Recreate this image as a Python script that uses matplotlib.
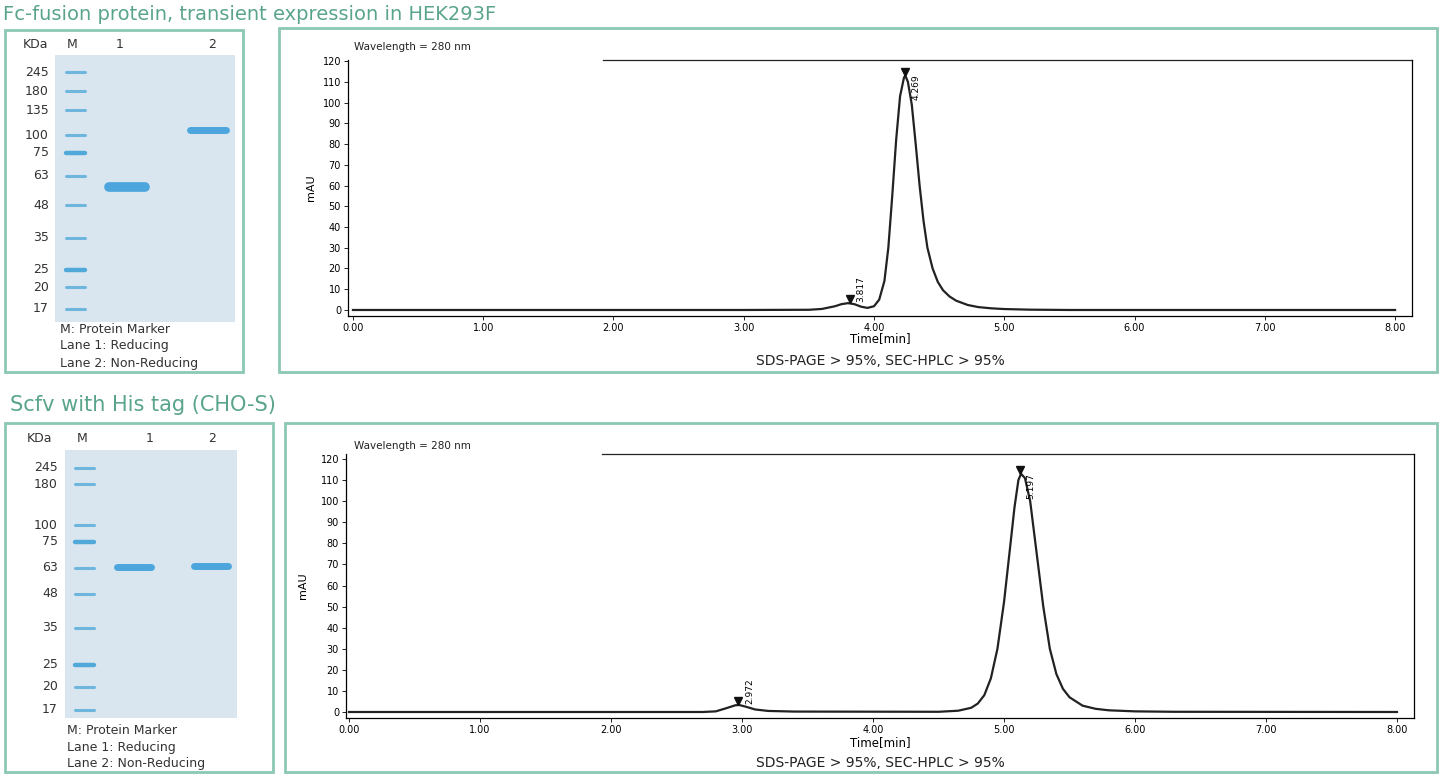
import matplotlib
matplotlib.use("Agg")
import matplotlib.pyplot as plt
from matplotlib.patches import Rectangle

W, H = 1445, 783
fig = plt.figure(figsize=(W/100, H/100), dpi=100)
fig.patch.set_facecolor("white")

# ---------------- data ----------------
top_title = "Fc-fusion protein, transient expression in HEK293F"
bot_title = "Scfv with His tag (CHO-S)"

top_marker_mw = [245, 180, 135, 100, 75, 63, 48, 35, 25, 20, 17]
top_marker_mig = [0.064, 0.135, 0.206, 0.300, 0.367, 0.453, 0.562, 0.685, 0.805, 0.869, 0.951]
top_lane_mig = [0.496, 0.281]      # lane1 reducing, lane2 non-reducing
bot_marker_mw = [245, 180, 100, 75, 63, 48, 35, 25, 20, 17]
bot_marker_mig = [0.067, 0.127, 0.280, 0.343, 0.440, 0.537, 0.664, 0.802, 0.884, 0.970]
bot_lane_mig = [0.437, 0.433]

top_t = [0.0, 3.0, 3.5, 3.6, 3.7, 3.75, 3.8, 3.85, 3.9, 3.95, 4.0, 4.04, 4.08, 4.11, 4.14, 4.17,
         4.2, 4.23, 4.24, 4.26, 4.29, 4.32, 4.35, 4.38, 4.41, 4.45, 4.49, 4.53, 4.58, 4.63, 4.72,
         4.8, 4.9, 5.0, 5.2, 5.5, 8.0]
top_v = [0.0, 0.0, 0.1, 0.5, 1.8, 2.8, 3.3, 2.8, 1.6, 1.0, 1.8, 5, 14, 30, 55, 82,
         103, 112, 113, 110, 99, 80, 60, 43, 30, 20, 13.5, 9.5, 6.5, 4.5, 2.4,
         1.4, 0.8, 0.45, 0.15, 0.0, 0.0]
top_peaks_t = [3.817, 4.24]
top_peaks_v = [3.3, 113]
top_peaks_lab = ["3.817", "4.269"]

bot_t = [0.0, 2.7, 2.8, 2.88, 2.95, 2.98, 3.03, 3.1, 3.2, 3.4, 4.5, 4.65, 4.75, 4.8, 4.85, 4.9,
         4.95, 5.0, 5.05, 5.08, 5.11, 5.13, 5.16, 5.2, 5.25, 5.3, 5.35, 5.4, 5.45, 5.5, 5.6,
         5.7, 5.8, 6.0, 6.3, 8.0]
bot_v = [0.0, 0.0, 0.3, 1.8, 3.2, 3.3, 2.5, 1.2, 0.5, 0.2, 0.1, 0.6, 2.0, 4, 8, 16,
         30, 52, 80, 97, 110, 113, 111, 100, 75, 50, 30, 18, 11, 7, 3,
         1.5, 0.8, 0.3, 0.1, 0.0]
bot_peaks_t = [2.972, 5.12]
bot_peaks_v = [3.3, 113]
bot_peaks_lab = ["2.972", "5.197"]

xticks = [0, 1, 2, 3, 4, 5, 6, 7, 8]
yticks = list(range(0, 121, 10))

GREEN = "#8cc8b3"
TITLE_GREEN = "#5aa58a"

def ax_px(x0, y0, x1, y1, **kw):
    return fig.add_axes([x0/W, 1-y1/H, (x1-x0)/W, (y1-y0)/H], **kw)

def box(x0, y0, x1, y1):
    fig.patches.append(Rectangle((x0/W, 1-y1/H), (x1-x0)/W, (y1-y0)/H, transform=fig.transFigure,
                                 fill=False, edgecolor=GREEN, lw=2))

def ftxt(x, y, s, **kw):
    fig.text(x/W, 1-y/H, s, **kw)

def gel(rect, mw, mig, lanes, lab_x, head, cap_x, cap_y, thick1):
    x0, y0, x1, y1 = rect
    ax = ax_px(x0, y0, x1, y1)
    ax.set_xlim(0, 3); ax.set_ylim(1, 0)
    ax.set_facecolor("#d9e6ef")
    for s in ax.spines.values(): s.set_visible(False)
    ax.set_xticks([]); ax.set_yticks([])
    for m, y in zip(mw, mig):
        strong = m in (25, 75)
        ax.plot([0.18, 0.5], [y, y], color="#4aa6d8", lw=3.2 if strong else 2.2,
                alpha=0.95 if strong else 0.75, solid_capstyle="round")
        ftxt(lab_x, y0 + y*(y1-y0), str(m), ha="right", va="center", fontsize=9, color="#333")
    for i, y in enumerate(lanes):
        cx = [1.2, 2.55][i]
        ax.plot([cx-0.3, cx+0.3], [y, y], color="#3d9fdc", lw=thick1 if i == 0 else 5,
                alpha=0.9, solid_capstyle="round")
    for (hx, s) in head:
        ftxt(hx, y0-11, s, ha="center", va="center", fontsize=9, color="#333")
    for j, s in enumerate(["M: Protein Marker", "Lane 1: Reducing", "Lane 2: Non-Reducing"]):
        ftxt(cap_x, cap_y + j*17, s, ha="left", va="center", fontsize=9, color="#333")

def chrom(rect, t, v, pt, pv, pl, xlim, ylim, wl_xy, mau_x, time_y, sds_y):
    x0, y0, x1, y1 = rect
    ax = ax_px(x0, y0, x1, y1)
    ax.plot(t, v, color="#222", lw=1.6)
    ax.set_xlim(*xlim); ax.set_ylim(*ylim)
    ax.set_xticks(xticks); ax.set_xticklabels([f"{x:.2f}" for x in xticks], fontsize=7)
    ax.set_yticks(yticks); ax.set_yticklabels([str(y) for y in yticks], fontsize=7)
    ax.tick_params(length=3, width=0.6, pad=2)
    ax.spines["top"].set_visible(False)
    for s in ["left", "right", "bottom"]: ax.spines[s].set_linewidth(0.9)
    ax.plot([0.24, 1], [1, 1], transform=ax.transAxes, color="#222", lw=0.9, clip_on=False)
    for a, b, l in zip(pt, pv, pl):
        ax.plot([a], [b + 1.8], marker="v", color="#111", ms=6, clip_on=False)
        ax.text(a + 0.05, b + 0.5, l, rotation=90, fontsize=6.5, ha="left", va="top" if b > 50 else "bottom")
    ftxt(wl_xy[0], wl_xy[1], "Wavelength = 280 nm", fontsize=7.5, va="center", color="#222")
    ftxt(mau_x, (y0+y1)/2, "mAU", rotation=90, fontsize=8, ha="center", va="center")
    ftxt((x0+x1)/2, time_y, "Time[min]", fontsize=8.5, ha="center", va="center")
    ftxt((x0+x1)/2, sds_y, "SDS-PAGE > 95%, SEC-HPLC > 95%", fontsize=10, ha="center", va="center", color="#222")

# Titles and boxes
ftxt(3, 15, top_title, fontsize=14, color=TITLE_GREEN, va="center")
ftxt(10, 405, bot_title, fontsize=15, color=TITLE_GREEN, va="center")
box(5, 30, 243, 372); box(279, 28, 1437, 372)
box(5, 423, 273, 772); box(285, 423, 1437, 772)

gel((55, 55, 235, 322), top_marker_mw, top_marker_mig, top_lane_mig, 49,
    [(35, "KDa"), (72, "M"), (120, "1"), (212, "2")], 60, 329, 7)
gel((65, 450, 237, 718), bot_marker_mw, bot_marker_mig, bot_lane_mig, 58,
    [(40, "KDa"), (82, "M"), (150, "1"), (212, "2")], 67, 730, 5)

chrom((348, 60, 1412, 316), top_t, top_v, top_peaks_t, top_peaks_v, top_peaks_lab,
      (-0.038, 8.13), (-2.9, 120.5), (354, 47), 311, 339, 361)
chrom((346, 454, 1414, 718), bot_t, bot_v, bot_peaks_t, bot_peaks_v, bot_peaks_lab,
      (-0.023, 8.13), (-2.85, 122.4), (354, 446), 303, 743, 763)

fig.savefig("out.png", dpi=100, facecolor="white")
